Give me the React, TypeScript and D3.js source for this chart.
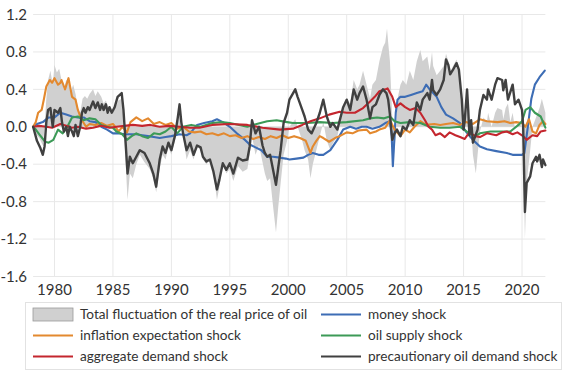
import React from 'react';
import * as d3 from 'd3';

type Pt = [number, number];

const yTicks = [1.2, 0.8, 0.4, 0.0, -0.4, -0.8, -1.2, -1.6];
const xTicks = [1980, 1985, 1990, 1995, 2000, 2005, 2010, 2015, 2020];

const totalFluctuation: Pt[] = [
  [1978.17,0],[1978.4,-0.08],[1978.7,-0.12],[1979.0,-0.2],[1979.15,0.0],[1979.3,0.3],[1979.45,0.5],[1979.65,0.6],[1979.85,0.45],
  [1980.0,0.66],[1980.2,0.58],[1980.4,0.62],[1980.6,0.5],[1980.8,0.4],[1981.0,0.5],[1981.2,0.48],[1981.4,0.38],[1981.6,0.45],
  [1981.8,0.35],[1982.0,0.2],[1982.2,0.15],[1982.4,0.3],[1982.6,0.33],[1982.8,0.3],[1983.0,0.35],[1983.3,0.4],[1983.5,0.33],
  [1983.7,0.38],[1984.0,0.32],[1984.2,0.25],[1984.4,0.28],[1984.6,0.2],[1984.8,0.22],[1985.0,0.15],[1985.2,0.2],[1985.45,0.28],
  [1985.75,0.3],[1985.9,0.1],[1986.05,-0.3],[1986.25,-0.78],[1986.45,-0.5],[1986.7,-0.55],[1987.0,-0.4],[1987.3,-0.3],
  [1987.7,-0.38],[1988.15,-0.45],[1988.45,-0.55],[1988.7,-0.7],[1989.0,-0.45],[1989.25,-0.3],[1989.5,-0.35],[1989.75,-0.22],
  [1990.0,-0.3],[1990.3,-0.15],[1990.55,0.1],[1990.7,0.25],[1990.85,0.05],[1991.0,-0.1],[1991.3,-0.35],[1991.6,-0.25],
  [1991.9,-0.35],[1992.2,-0.2],[1992.5,-0.25],[1992.7,-0.35],[1993.0,-0.4],[1993.3,-0.35],[1993.6,-0.5],[1993.9,-0.78],
  [1994.1,-0.65],[1994.4,-0.4],[1994.7,-0.5],[1995.0,-0.45],[1995.3,-0.58],[1995.7,-0.42],[1996.1,-0.48],[1996.5,-0.45],
  [1996.7,-0.3],[1996.9,-0.1],[1997.2,-0.3],[1997.5,-0.2],[1997.8,-0.38],[1998.0,-0.5],[1998.2,-0.58],[1998.45,-0.55],
  [1998.7,-0.85],[1998.95,-1.13],[1999.15,-0.85],[1999.35,-0.6],[1999.6,-0.3],[1999.9,-0.15],[2000.1,0.0],[2000.6,0.08],
  [2000.8,0.0],[2001.2,-0.15],[2001.4,-0.25],[2001.7,-0.35],[2001.9,-0.55],[2002.1,-0.4],[2002.4,-0.25],[2002.7,-0.1],
  [2003.0,0.05],[2003.3,-0.15],[2003.6,-0.25],[2003.8,-0.18],[2004.2,-0.1],[2004.7,0.2],[2005.0,0.3],[2005.3,0.25],
  [2005.6,0.5],[2005.9,0.4],[2006.1,0.45],[2006.4,0.6],[2006.7,0.45],[2007.0,0.3],[2007.2,0.45],[2007.5,0.5],[2007.8,0.7],
  [2008.1,0.85],[2008.3,0.9],[2008.45,1.05],[2008.55,0.9],[2008.7,0.7],[2008.9,0.1],[2009.0,-0.35],[2009.2,-0.1],
  [2009.35,0.3],[2009.6,0.45],[2009.8,0.5],[2010.1,0.45],[2010.4,0.6],[2010.7,0.5],[2011.0,0.7],[2011.3,0.82],[2011.5,0.7],
  [2011.9,0.75],[2012.1,0.6],[2012.3,0.8],[2012.4,0.65],[2012.7,0.55],[2013.0,0.6],[2013.3,0.65],[2013.5,0.78],[2013.7,0.7],
  [2013.85,0.58],[2014.1,0.65],[2014.4,0.72],[2014.6,0.62],[2014.85,0.3],[2015.0,0.0],[2015.1,0.05],[2015.3,0.3],[2015.4,0.1],
  [2015.5,-0.15],[2015.65,0.0],[2015.8,-0.3],[2016.05,-0.5],[2016.2,-0.3],[2016.4,-0.05],[2016.7,0.1],[2017.0,0.05],
  [2017.1,0.15],[2017.4,0.0],[2017.7,0.15],[2017.9,0.2],[2018.3,0.18],[2018.4,0.08],[2018.6,0.2],[2018.8,0.25],[2019.0,0.05],
  [2019.2,0.15],[2019.4,-0.02],[2019.7,0.05],[2020.0,0.0],[2020.1,-0.2],[2020.25,-1.2],[2020.4,-0.6],[2020.7,-0.25],
  [2020.9,0.0],[2021.2,0.1],[2021.5,0.2],[2021.7,0.3],[2021.8,0.25],[2022.0,0.15],
];

const moneyShock: Pt[] = [
  [1978.17,0],[1978.5,0.03],[1979.0,0.05],[1979.5,0.1],[1980.0,0.1],[1980.5,0.15],[1981.0,0.13],[1981.5,0.11],[1982.0,0.1],
  [1982.5,0.1],[1983.0,0.06],[1983.5,0.05],[1984.0,0.0],[1984.5,-0.03],[1985.0,-0.07],[1985.5,-0.07],[1986.0,-0.08],
  [1987.0,-0.08],[1987.5,-0.09],[1988.0,-0.1],[1988.5,-0.11],[1989.0,-0.12],[1989.5,-0.11],[1990.0,-0.1],[1990.7,-0.08],
  [1991.3,-0.09],[1991.6,-0.07],[1992.2,0.02],[1992.8,0.04],[1993.5,0.06],[1993.9,0.08],[1994.4,0.05],[1995.0,0.0],
  [1995.6,-0.07],[1996.3,-0.14],[1996.7,-0.19],[1997.2,-0.22],[1997.7,-0.25],[1998.2,-0.32],[1998.7,-0.32],[1999.3,-0.33],
  [1999.8,-0.34],[2000.1,-0.35],[2000.7,-0.34],[2001.3,-0.33],[2001.7,-0.3],[2002.1,-0.28],[2002.6,-0.3],[2003.0,-0.3],
  [2003.6,-0.25],[2004.2,-0.14],[2004.7,-0.03],[2005.3,0.0],[2005.8,-0.02],[2006.3,0.0],[2006.7,0.0],[2007.2,-0.02],
  [2007.8,0.0],[2008.3,0.04],[2008.7,0.06],[2008.85,-0.1],[2008.95,-0.42],[2009.05,-0.2],[2009.2,0.15],[2009.35,0.29],
  [2009.6,0.32],[2010.0,0.32],[2010.5,0.34],[2011.0,0.36],[2011.5,0.38],[2011.8,0.45],[2012.1,0.4],[2012.7,0.32],
  [2013.1,0.21],[2013.5,0.13],[2014.1,0.09],[2014.7,0.04],[2015.2,-0.05],[2015.8,-0.14],[2016.4,-0.21],[2017.0,-0.24],
  [2017.8,-0.26],[2018.7,-0.28],[2019.2,-0.3],[2020.0,-0.3],[2020.2,-0.28],[2020.5,0.0],[2020.8,0.3],[2021.1,0.45],
  [2021.5,0.53],[2021.95,0.6],
];

const inflationShock: Pt[] = [
  [1978.17,0],[1978.4,0.05],[1978.6,0.15],[1978.9,0.18],[1979.1,0.3],[1979.3,0.43],[1979.6,0.5],[1979.8,0.47],[1980.0,0.52],
  [1980.3,0.45],[1980.5,0.47],[1980.6,0.5],[1980.9,0.4],[1981.2,0.52],[1981.5,0.32],[1981.8,0.29],[1982.0,0.18],[1982.3,0.08],
  [1982.7,0.0],[1983.0,0.03],[1983.5,0.02],[1984.0,0.04],[1984.5,0.01],[1985.0,0.03],[1985.5,-0.05],[1985.8,0.0],
  [1986.2,-0.06],[1986.5,0.05],[1987.0,0.1],[1987.5,0.06],[1988.0,0.09],[1988.5,0.03],[1989.0,0.05],[1989.5,0.02],
  [1990.0,0.04],[1990.5,-0.02],[1991.0,0.0],[1991.5,-0.05],[1992.0,-0.06],[1992.5,-0.05],[1993.0,-0.08],[1993.5,-0.07],
  [1994.0,-0.09],[1994.5,-0.07],[1995.0,-0.1],[1995.5,-0.09],[1996.0,-0.12],[1996.5,-0.1],[1997.0,-0.13],[1997.5,-0.11],
  [1998.0,-0.13],[1998.5,-0.1],[1999.0,-0.12],[1999.5,-0.09],[2000.0,-0.12],[2000.5,-0.1],[2001.0,-0.12],[2001.5,-0.15],
  [2001.9,-0.28],[2002.1,-0.21],[2002.4,-0.15],[2002.7,-0.1],[2003.0,-0.12],[2003.5,-0.16],[2004.0,-0.12],[2004.4,-0.1],
  [2005.0,-0.06],[2005.5,-0.07],[2006.0,-0.04],[2006.7,-0.03],[2007.0,-0.07],[2007.5,-0.05],[2007.8,-0.03],[2008.3,-0.01],
  [2008.7,0.07],[2009.1,-0.03],[2009.6,-0.1],[2010.0,-0.03],[2010.4,-0.06],[2010.8,0.0],[2011.3,0.06],[2011.8,0.02],
  [2012.5,0.03],[2013.0,0.02],[2013.5,0.03],[2014.1,0.04],[2014.7,0.02],[2015.2,0.05],[2015.8,0.03],[2016.4,0.08],
  [2017.0,0.06],[2017.9,0.05],[2018.5,0.06],[2019.0,0.04],[2019.5,0.05],[2020.0,0.04],[2020.3,0.0],[2020.6,0.08],
  [2020.9,-0.05],[2021.2,-0.07],[2021.5,0.02],[2021.8,0.06],[2022.0,0.03],
];

const oilSupplyShock: Pt[] = [
  [1978.17,0],[1978.4,-0.03],[1978.7,-0.08],[1979.2,-0.16],[1979.5,-0.17],[1979.9,-0.14],[1980.3,-0.03],[1980.7,-0.07],
  [1981.1,0.0],[1981.5,0.1],[1982.0,0.11],[1982.5,0.07],[1983.0,0.09],[1983.5,0.08],[1984.0,0.02],[1984.5,0.0],[1985.0,-0.01],
  [1985.3,-0.05],[1985.8,-0.08],[1986.2,-0.14],[1986.6,-0.1],[1987.0,-0.07],[1987.5,-0.1],[1988.0,-0.12],[1988.5,-0.07],
  [1989.0,-0.08],[1989.5,-0.05],[1990.0,0.0],[1990.5,-0.07],[1991.0,0.0],[1991.7,0.02],[1992.5,0.0],[1993.5,0.04],
  [1994.3,0.05],[1995.0,0.04],[1995.8,0.02],[1996.5,0.0],[1997.3,0.03],[1998.2,0.06],[1999.0,0.07],[1999.9,0.05],
  [2000.4,0.04],[2001.6,0.04],[2002.7,0.05],[2003.8,0.04],[2005.0,0.05],[2006.4,0.07],[2007.0,0.09],[2007.6,0.1],
  [2008.2,0.09],[2008.7,0.11],[2009.1,0.06],[2009.6,0.04],[2010.4,0.05],[2011.3,0.04],[2012.1,0.0],[2013.0,-0.01],
  [2013.8,-0.01],[2014.7,0.0],[2015.5,-0.07],[2016.0,-0.1],[2016.4,-0.07],[2017.3,-0.05],[2018.1,-0.05],[2019.0,-0.05],
  [2019.7,0.02],[2020.0,0.06],[2020.3,0.18],[2020.7,0.21],[2021.1,0.15],[2021.6,0.11],[2022.0,-0.01],
];

const aggregateDemandShock: Pt[] = [
  [1978.17,0],[1978.7,0.01],[1979.3,0.0],[1979.8,-0.01],[1980.5,0.03],[1981.0,0.01],[1981.5,-0.01],[1982.0,0.0],
  [1982.7,-0.02],[1983.3,-0.01],[1984.0,0.01],[1984.7,-0.01],[1985.3,0.0],[1986.0,0.01],[1986.7,0.02],[1987.5,0.01],
  [1988.2,0.02],[1989.0,0.0],[1989.8,0.01],[1990.7,0.0],[1991.6,-0.01],[1992.4,-0.01],[1993.5,0.02],[1995.0,0.03],
  [1996.5,0.02],[1997.8,-0.01],[1999.3,-0.03],[2000.4,-0.02],[2001.2,0.02],[2001.9,0.06],[2002.7,0.09],[2003.5,0.13],
  [2004.4,0.16],[2005.0,0.15],[2005.7,0.15],[2006.4,0.2],[2007.0,0.27],[2007.4,0.32],[2007.8,0.38],[2008.3,0.4],
  [2008.5,0.41],[2008.9,0.32],[2009.2,0.21],[2009.6,0.25],[2010.0,0.21],[2010.4,0.18],[2010.9,0.2],[2011.3,0.15],
  [2011.7,0.07],[2012.0,0.0],[2012.3,-0.03],[2012.6,-0.09],[2013.0,-0.07],[2013.4,-0.11],[2013.8,-0.06],[2014.3,-0.09],
  [2014.7,-0.11],[2015.1,-0.13],[2015.5,-0.06],[2016.0,-0.1],[2016.4,-0.11],[2017.0,-0.07],[2017.8,-0.09],[2018.3,-0.06],
  [2018.7,-0.05],[2019.2,-0.08],[2019.6,-0.06],[2020.1,-0.1],[2020.4,-0.14],[2020.9,-0.09],[2021.3,-0.1],[2021.6,-0.05],
  [2022.0,-0.04],
];

const precautionaryShock: Pt[] = [
  [1978.17,0],[1978.5,-0.15],[1978.8,-0.23],[1979.0,-0.3],[1979.15,-0.21],[1979.3,0.05],[1979.45,0.18],[1979.65,0.2],
  [1979.85,0.0],[1980.0,0.18],[1980.3,0.15],[1980.5,0.2],[1980.65,0.04],[1980.8,-0.05],[1981.0,0.0],[1981.15,-0.1],
  [1981.3,0.0],[1981.5,-0.05],[1981.65,-0.1],[1981.8,0.02],[1982.0,-0.1],[1982.2,0.0],[1982.35,0.15],[1982.5,0.2],
  [1982.65,0.15],[1982.85,0.21],[1983.0,0.18],[1983.3,0.27],[1983.5,0.2],[1983.7,0.26],[1983.9,0.18],[1984.05,0.24],
  [1984.2,0.18],[1984.4,0.24],[1984.55,0.15],[1984.7,0.21],[1984.9,0.15],[1985.15,0.21],[1985.4,0.32],[1985.75,0.36],
  [1985.9,0.18],[1986.05,-0.1],[1986.25,-0.5],[1986.45,-0.32],[1986.7,-0.39],[1987.0,-0.32],[1987.3,-0.25],[1987.7,-0.28],
  [1988.15,-0.39],[1988.45,-0.5],[1988.7,-0.64],[1989.0,-0.35],[1989.25,-0.21],[1989.5,-0.28],[1989.75,-0.17],[1990.0,-0.25],
  [1990.3,-0.1],[1990.55,0.1],[1990.7,0.24],[1990.85,0.05],[1991.0,-0.07],[1991.3,-0.25],[1991.6,-0.17],[1991.9,-0.3],
  [1992.2,-0.2],[1992.5,-0.22],[1992.7,-0.32],[1993.0,-0.37],[1993.3,-0.35],[1993.6,-0.48],[1993.9,-0.67],[1994.1,-0.57],
  [1994.4,-0.39],[1994.7,-0.46],[1995.0,-0.39],[1995.3,-0.5],[1995.7,-0.33],[1996.1,-0.36],[1996.5,-0.35],[1996.7,-0.21],
  [1996.9,0.07],[1997.2,-0.07],[1997.5,0.0],[1997.8,-0.2],[1998.0,-0.28],[1998.2,-0.32],[1998.45,-0.3],[1998.7,-0.46],
  [1998.95,-0.62],[1999.15,-0.43],[1999.35,-0.25],[1999.6,0.04],[1999.9,0.15],[2000.1,0.29],[2000.6,0.4],[2000.8,0.32],
  [2001.2,0.18],[2001.4,0.11],[2001.7,-0.03],[2002.0,-0.07],[2002.4,0.04],[2002.7,0.15],[2003.0,0.29],[2003.3,0.11],
  [2003.6,0.0],[2003.8,0.04],[2004.2,-0.03],[2004.7,0.21],[2005.0,0.29],[2005.3,0.18],[2005.6,0.4],[2005.9,0.29],
  [2006.1,0.36],[2006.4,0.43],[2006.7,0.29],[2007.0,0.09],[2007.2,0.21],[2007.5,0.24],[2007.8,0.34],[2008.1,0.4],
  [2008.4,0.36],[2008.55,0.29],[2008.7,0.13],[2008.9,-0.14],[2009.05,-0.08],[2009.3,-0.03],[2009.6,-0.1],[2009.8,0.0],
  [2010.1,-0.03],[2010.4,0.07],[2010.7,0.02],[2011.0,0.26],[2011.3,0.18],[2011.5,0.29],[2011.9,0.36],[2012.1,0.29],
  [2012.3,0.5],[2012.4,0.39],[2012.7,0.34],[2013.0,0.4],[2013.3,0.5],[2013.5,0.72],[2013.7,0.66],[2013.85,0.56],
  [2014.1,0.61],[2014.4,0.68],[2014.6,0.61],[2014.85,0.29],[2015.0,-0.03],[2015.1,0.07],[2015.3,0.4],[2015.4,0.18],
  [2015.5,-0.09],[2015.65,0.07],[2015.8,-0.17],[2016.2,-0.03],[2016.4,0.18],[2016.7,0.34],[2017.0,0.29],[2017.1,0.4],
  [2017.4,0.29],[2017.7,0.45],[2017.9,0.52],[2018.3,0.5],[2018.4,0.39],[2018.6,0.5],[2018.8,0.29],[2019.2,0.45],
  [2019.4,0.24],[2019.7,0.29],[2020.0,0.18],[2020.1,0.0],[2020.25,-0.91],[2020.4,-0.6],[2020.7,-0.53],[2020.9,-0.39],
  [2021.2,-0.32],[2021.3,-0.37],[2021.5,-0.3],[2021.7,-0.43],[2021.8,-0.35],[2022.0,-0.41],
];

const legendLabels = [
  'Total fluctuation of the real price of oil',
  'money shock',
  'inflation expectation shock',
  'oil supply shock',
  'aggregate demand shock',
  'precautionary oil demand shock',
];

const lineSeries = [
  { data: moneyShock, color: '#3d6db5', width: 2.1 },
  { data: inflationShock, color: '#e3892f', width: 2.1 },
  { data: oilSupplyShock, color: '#3c9a57', width: 2.1 },
  { data: aggregateDemandShock, color: '#c4262e', width: 2.1 },
  { data: precautionaryShock, color: '#404040', width: 2.4 },
];

const FONT = 'Lato, "Open Sans", sans-serif';

export default function App() {
  const x = d3.scaleLinear().domain([1980, 2020]).range([54.5, 522]);
  const y = d3.scaleLinear().domain([-1.6, 1.2]).range([276.5, 14.5]);
  const left = x(1978.17);
  const right = x(2022.0);

  const area = d3.area<Pt>().x(d => x(d[0])).y0(y(0)).y1(d => y(d[1]));
  const line = d3.line<Pt>().x(d => x(d[0])).y(d => y(d[1]));

  const legendItems = [
    { label: legendLabels[0], kind: 'area', color: '#d0d0d0', col: 0, row: 0 },
    { label: legendLabels[1], kind: 'line', color: lineSeries[0].color, col: 1, row: 0 },
    { label: legendLabels[2], kind: 'line', color: lineSeries[1].color, col: 0, row: 1 },
    { label: legendLabels[3], kind: 'line', color: lineSeries[2].color, col: 1, row: 1 },
    { label: legendLabels[4], kind: 'line', color: lineSeries[3].color, col: 0, row: 2 },
    { label: legendLabels[5], kind: 'line', color: lineSeries[4].color, col: 1, row: 2 },
  ];
  const colX = [33, 321];
  const rowY = [314.5, 335.5, 356.5];

  return (
    <svg width={571} height={378} style={{ position: 'absolute', left: 0, top: 0, background: '#fff' }}
      fontFamily={FONT}>
      <rect x={0} y={0} width={571} height={378} fill="#fff" />
      {yTicks.map(t => (
        <line key={'h' + t} x1={left} x2={right} y1={y(t)} y2={y(t)} stroke="#e8e8e8" strokeWidth={1} />
      ))}
      {xTicks.map(t => (
        <line key={'v' + t} x1={x(t)} x2={x(t)} y1={y(1.2)} y2={y(-1.6)} stroke="#e8e8e8" strokeWidth={1} />
      ))}
      <path d={area(totalFluctuation) || ''} fill="#d0d0d0" stroke="none" />
      {lineSeries.map((s, i) => (
        <path key={i} d={line(s.data) || ''} fill="none" stroke={s.color} strokeWidth={s.width}
          strokeLinejoin="round" strokeLinecap="round" />
      ))}
      {yTicks.map(t => (
        <text key={'yl' + t} x={27} y={y(t)} dy="0.35em" textAnchor="end" fontSize={15} fill="#333">
          {d3.format('.1f')(t).replace('−', '-')}
        </text>
      ))}
      {xTicks.map(t => (
        <text key={'xl' + t} x={x(t)} y={290} dy="0.35em" textAnchor="middle" fontSize={15} fill="#333">
          {t}
        </text>
      ))}
      <rect x={25.5} y={302.5} width={536} height={67} fill="#fff" stroke="#e2e2e2" />
      {legendItems.map((it, i) => {
        const lx = colX[it.col];
        const ly = rowY[it.row];
        return (
          <g key={'lg' + i}>
            {it.kind === 'area' ? (
              <rect x={lx} y={ly - 6.5} width={40} height={13} fill={it.color} stroke="#999" strokeWidth={0.8} />
            ) : (
              <line x1={lx} x2={lx + 40} y1={ly} y2={ly} stroke={it.color} strokeWidth={2} />
            )}
            <text x={lx + 47} y={ly} dy="0.35em" fontSize={13.6} fill="#333">{it.label}</text>
          </g>
        );
      })}
    </svg>
  );
}
